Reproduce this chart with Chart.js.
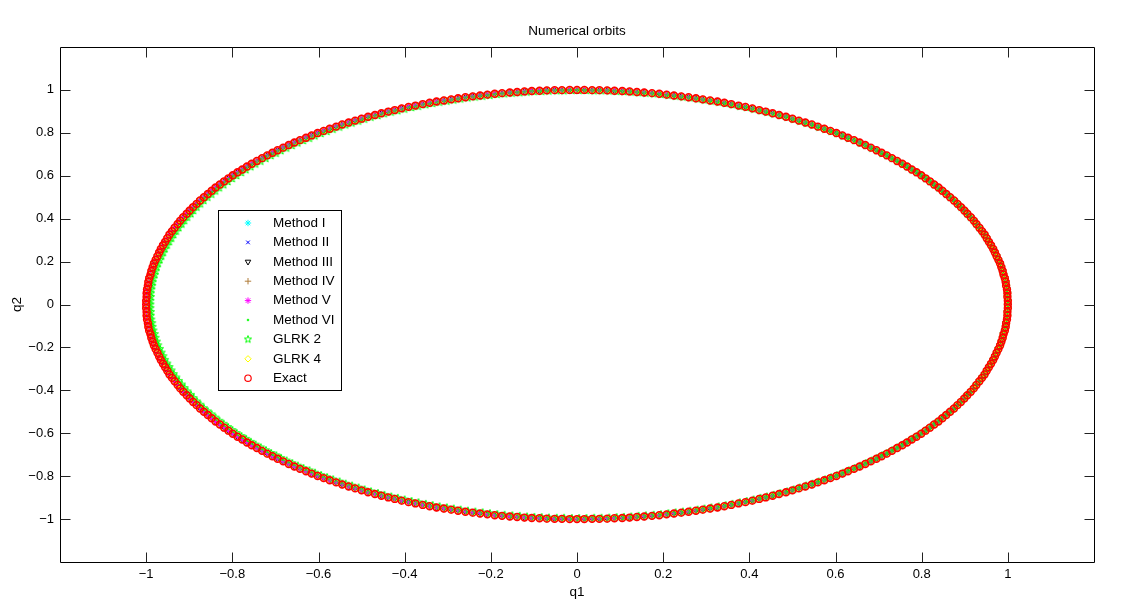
<!DOCTYPE html>
<html><head><meta charset="utf-8">
<script src="https://cdn.jsdelivr.net/npm/chart.js@4/dist/chart.umd.min.js"></script>
<style>html,body{margin:0;padding:0;background:#fff}#wrap{width:1136px;height:613px;position:relative}</style>
</head><body><div id="wrap"><canvas id="c"></canvas></div>
<script>
const chartTitle = 'Numerical orbits';
const xAxisLabel = 'q1';
const yAxisLabel = 'q2';
const xTickValues = [-1, -0.8, -0.6, -0.4, -0.2, 0, 0.2, 0.4, 0.6, 0.8, 1];
const xTickLabels = ['\u22121', '\u22120.8', '\u22120.6', '\u22120.4', '\u22120.2', '0', '0.2', '0.4', '0.6', '0.8', '1'];
const yTickValues = [-1, -0.8, -0.6, -0.4, -0.2, 0, 0.2, 0.4, 0.6, 0.8, 1];
const yTickLabels = ['\u22121', '\u22120.8', '\u22120.6', '\u22120.4', '\u22120.2', '0', '0.2', '0.4', '0.6', '0.8', '1'];
const seriesNames = ['Method I', 'Method II', 'Method III', 'Method IV', 'Method V', 'Method VI', 'GLRK 2', 'GLRK 4', 'Exact'];

// exact orbit (q1, q2)
const q1Exact = [
1,1,.999,.999,.998,.996,.995,.993,.99,.988,.985,.982,.978,.974,.97,.966,.961,.956,.951,.946,.94,.934,.927,.921,.914,.906,.899,.891,.883,.875,.866,.857,.848,.839,.829,.819,.809,.799,.788,.777,.766,.755,.743,.731,.719,.707,.695,.682,.669,.656,.643,.629,.616,.602,.588,.574,.559,.545,.53,.515,.5,.485,.469,.454,.438,.423,.407,.391,.375,.358,.342,.326,.309,.292,.276,.259,.242,.225,.208,.191,.174,.156,.139,.122,.105,.087,.07,.052,.035,.017,
0,-.017,-.035,-.052,-.07,-.087,-.105,-.122,-.139,-.156,-.174,-.191,-.208,-.225,-.242,-.259,-.276,-.292,-.309,-.326,-.342,-.358,-.375,-.391,-.407,-.423,-.438,-.454,-.469,-.485,-.5,-.515,-.53,-.545,-.559,-.574,-.588,-.602,-.616,-.629,-.643,-.656,-.669,-.682,-.695,-.707,-.719,-.731,-.743,-.755,-.766,-.777,-.788,-.799,-.809,-.819,-.829,-.839,-.848,-.857,-.866,-.875,-.883,-.891,-.899,-.906,-.914,-.921,-.927,-.934,-.94,-.946,-.951,-.956,-.961,-.966,-.97,-.974,-.978,-.982,-.985,-.988,-.99,-.993,-.995,-.996,-.998,-.999,-.999,-1,
-1,-1,-.999,-.999,-.998,-.996,-.995,-.993,-.99,-.988,-.985,-.982,-.978,-.974,-.97,-.966,-.961,-.956,-.951,-.946,-.94,-.934,-.927,-.921,-.914,-.906,-.899,-.891,-.883,-.875,-.866,-.857,-.848,-.839,-.829,-.819,-.809,-.799,-.788,-.777,-.766,-.755,-.743,-.731,-.719,-.707,-.695,-.682,-.669,-.656,-.643,-.629,-.616,-.602,-.588,-.574,-.559,-.545,-.53,-.515,-.5,-.485,-.469,-.454,-.438,-.423,-.407,-.391,-.375,-.358,-.342,-.326,-.309,-.292,-.276,-.259,-.242,-.225,-.208,-.191,-.174,-.156,-.139,-.122,-.105,-.087,-.07,-.052,-.035,-.017,
0,.017,.035,.052,.07,.087,.105,.122,.139,.156,.174,.191,.208,.225,.242,.259,.276,.292,.309,.326,.342,.358,.375,.391,.407,.423,.438,.454,.469,.485,.5,.515,.53,.545,.559,.574,.588,.602,.616,.629,.643,.656,.669,.682,.695,.707,.719,.731,.743,.755,.766,.777,.788,.799,.809,.819,.829,.839,.848,.857,.866,.875,.883,.891,.899,.906,.914,.921,.927,.934,.94,.946,.951,.956,.961,.966,.97,.974,.978,.982,.985,.988,.99,.993,.995,.996,.998,.999,.999,1];
const q2Exact = [
0,.017,.035,.052,.07,.087,.105,.122,.139,.156,.174,.191,.208,.225,.242,.259,.276,.292,.309,.326,.342,.358,.375,.391,.407,.423,.438,.454,.469,.485,.5,.515,.53,.545,.559,.574,.588,.602,.616,.629,.643,.656,.669,.682,.695,.707,.719,.731,.743,.755,.766,.777,.788,.799,.809,.819,.829,.839,.848,.857,.866,.875,.883,.891,.899,.906,.914,.921,.927,.934,.94,.946,.951,.956,.961,.966,.97,.974,.978,.982,.985,.988,.99,.993,.995,.996,.998,.999,.999,1,
1,1,.999,.999,.998,.996,.995,.993,.99,.988,.985,.982,.978,.974,.97,.966,.961,.956,.951,.946,.94,.934,.927,.921,.914,.906,.899,.891,.883,.875,.866,.857,.848,.839,.829,.819,.809,.799,.788,.777,.766,.755,.743,.731,.719,.707,.695,.682,.669,.656,.643,.629,.616,.602,.588,.574,.559,.545,.53,.515,.5,.485,.469,.454,.438,.423,.407,.391,.375,.358,.342,.326,.309,.292,.276,.259,.242,.225,.208,.191,.174,.156,.139,.122,.105,.087,.07,.052,.035,.017,
0,-.017,-.035,-.052,-.07,-.087,-.105,-.122,-.139,-.156,-.174,-.191,-.208,-.225,-.242,-.259,-.276,-.292,-.309,-.326,-.342,-.358,-.375,-.391,-.407,-.423,-.438,-.454,-.469,-.485,-.5,-.515,-.53,-.545,-.559,-.574,-.588,-.602,-.616,-.629,-.643,-.656,-.669,-.682,-.695,-.707,-.719,-.731,-.743,-.755,-.766,-.777,-.788,-.799,-.809,-.819,-.829,-.839,-.848,-.857,-.866,-.875,-.883,-.891,-.899,-.906,-.914,-.921,-.927,-.934,-.94,-.946,-.951,-.956,-.961,-.966,-.97,-.974,-.978,-.982,-.985,-.988,-.99,-.993,-.995,-.996,-.998,-.999,-.999,-1,
-1,-1,-.999,-.999,-.998,-.996,-.995,-.993,-.99,-.988,-.985,-.982,-.978,-.974,-.97,-.966,-.961,-.956,-.951,-.946,-.94,-.934,-.927,-.921,-.914,-.906,-.899,-.891,-.883,-.875,-.866,-.857,-.848,-.839,-.829,-.819,-.809,-.799,-.788,-.777,-.766,-.755,-.743,-.731,-.719,-.707,-.695,-.682,-.669,-.656,-.643,-.629,-.616,-.602,-.588,-.574,-.559,-.545,-.53,-.515,-.5,-.485,-.469,-.454,-.438,-.423,-.407,-.391,-.375,-.358,-.342,-.326,-.309,-.292,-.276,-.259,-.242,-.225,-.208,-.191,-.174,-.156,-.139,-.122,-.105,-.087,-.07,-.052,-.035,-.017];

// GLRK 2 / Method VI orbit (slightly inside on the left)
const q1Glrk2 = [
1,1,.999,.999,.998,.996,.995,.993,.99,.988,.985,.982,.978,.974,.97,.966,.961,.956,.951,.946,.94,.934,.927,.921,.914,.906,.9,.892,.884,.876,.867,.858,.849,.84,.83,.82,.81,.8,.789,.778,.767,.756,.744,.732,.72,.708,.697,.684,.671,.658,.645,.631,.618,.604,.59,.576,.561,.547,.532,.517,.503,.488,.472,.457,.441,.426,.41,.394,.378,.361,.345,.329,.312,.296,.28,.263,.246,.229,.212,.195,.178,.16,.143,.126,.109,.092,.075,.057,.04,.022,
.005,-.012,-.03,-.047,-.065,-.082,-.099,-.116,-.133,-.15,-.168,-.185,-.202,-.219,-.236,-.253,-.27,-.286,-.302,-.319,-.335,-.351,-.368,-.384,-.4,-.416,-.431,-.447,-.462,-.478,-.493,-.507,-.522,-.537,-.551,-.566,-.58,-.594,-.608,-.621,-.635,-.648,-.661,-.674,-.687,-.698,-.71,-.722,-.734,-.746,-.757,-.768,-.779,-.79,-.8,-.81,-.82,-.83,-.839,-.848,-.857,-.866,-.874,-.882,-.89,-.896,-.904,-.911,-.917,-.924,-.93,-.936,-.941,-.946,-.951,-.956,-.96,-.964,-.968,-.972,-.975,-.978,-.98,-.983,-.985,-.986,-.988,-.989,-.989,-.99,
-.99,-.99,-.989,-.989,-.988,-.986,-.985,-.983,-.98,-.978,-.975,-.972,-.968,-.964,-.96,-.956,-.951,-.946,-.941,-.936,-.93,-.924,-.917,-.911,-.904,-.896,-.89,-.882,-.874,-.866,-.857,-.848,-.839,-.83,-.82,-.81,-.8,-.79,-.779,-.768,-.757,-.746,-.734,-.722,-.71,-.698,-.687,-.674,-.661,-.648,-.635,-.621,-.608,-.594,-.58,-.566,-.551,-.537,-.522,-.507,-.493,-.478,-.462,-.447,-.431,-.416,-.4,-.384,-.368,-.351,-.335,-.319,-.302,-.286,-.27,-.253,-.236,-.219,-.202,-.185,-.168,-.15,-.133,-.116,-.099,-.082,-.065,-.047,-.03,-.012,
.005,.022,.04,.057,.075,.092,.109,.126,.143,.16,.178,.195,.212,.229,.246,.263,.28,.296,.312,.329,.345,.361,.378,.394,.41,.426,.441,.457,.472,.488,.503,.517,.532,.547,.561,.576,.59,.604,.618,.631,.645,.658,.671,.684,.697,.708,.72,.732,.744,.756,.767,.778,.789,.8,.81,.82,.83,.84,.849,.858,.867,.876,.884,.892,.9,.906,.914,.921,.927,.934,.94,.946,.951,.956,.961,.966,.97,.974,.978,.982,.985,.988,.99,.993,.995,.996,.998,.999,.999,1];
const q2Glrk2 = [
0,.017,.035,.052,.07,.087,.104,.121,.138,.155,.173,.19,.207,.224,.241,.258,.275,.291,.307,.324,.34,.356,.373,.389,.405,.421,.436,.452,.467,.483,.498,.512,.527,.542,.556,.571,.585,.599,.613,.626,.64,.653,.666,.679,.692,.703,.715,.727,.739,.751,.762,.773,.784,.795,.805,.815,.825,.835,.844,.853,.862,.871,.879,.887,.895,.901,.909,.916,.922,.929,.935,.941,.946,.951,.956,.961,.965,.969,.973,.977,.98,.983,.985,.988,.99,.991,.993,.994,.994,.995,
.995,.995,.994,.994,.993,.991,.99,.988,.985,.983,.98,.977,.973,.969,.965,.961,.956,.951,.946,.941,.935,.929,.922,.916,.909,.901,.895,.887,.879,.871,.862,.853,.844,.835,.825,.815,.805,.795,.784,.773,.762,.751,.739,.727,.715,.703,.692,.679,.666,.653,.64,.626,.613,.599,.585,.571,.556,.542,.527,.512,.498,.483,.467,.452,.436,.421,.405,.389,.373,.356,.34,.324,.307,.291,.275,.258,.241,.224,.207,.19,.173,.155,.138,.121,.104,.087,.07,.052,.035,.017,
0,-.017,-.035,-.052,-.07,-.087,-.104,-.121,-.138,-.155,-.173,-.19,-.207,-.224,-.241,-.258,-.275,-.291,-.307,-.324,-.34,-.356,-.373,-.389,-.405,-.421,-.436,-.452,-.467,-.483,-.498,-.512,-.527,-.542,-.556,-.571,-.585,-.599,-.613,-.626,-.64,-.653,-.666,-.679,-.692,-.703,-.715,-.727,-.739,-.751,-.762,-.773,-.784,-.795,-.805,-.815,-.825,-.835,-.844,-.853,-.862,-.871,-.879,-.887,-.895,-.901,-.909,-.916,-.922,-.929,-.935,-.941,-.946,-.951,-.956,-.961,-.965,-.969,-.973,-.977,-.98,-.983,-.985,-.988,-.99,-.991,-.993,-.994,-.994,-.995,
-.995,-.995,-.994,-.994,-.993,-.991,-.99,-.988,-.985,-.983,-.98,-.977,-.973,-.969,-.965,-.961,-.956,-.951,-.946,-.941,-.935,-.929,-.922,-.916,-.909,-.901,-.895,-.887,-.879,-.871,-.862,-.853,-.844,-.835,-.825,-.815,-.805,-.795,-.784,-.773,-.762,-.751,-.739,-.727,-.715,-.703,-.692,-.679,-.666,-.653,-.64,-.626,-.613,-.599,-.585,-.571,-.556,-.542,-.527,-.512,-.498,-.483,-.467,-.452,-.436,-.421,-.405,-.389,-.373,-.356,-.34,-.324,-.307,-.291,-.275,-.258,-.241,-.224,-.207,-.19,-.173,-.155,-.138,-.121,-.104,-.087,-.07,-.052,-.035,-.017];

// which orbit each series follows (others coincide with the exact orbit at this scale)
const seriesQ1 = [q1Exact, q1Exact, q1Exact, q1Exact, q1Exact, q1Glrk2, q1Glrk2, q1Exact, q1Exact];
const seriesQ2 = [q2Exact, q2Exact, q2Exact, q2Exact, q2Exact, q2Glrk2, q2Glrk2, q2Exact, q2Exact];

const FONT = '"Liberation Sans", Arial, Helvetica, sans-serif';

function makePentagram(r, color, lw) {
  const s = Math.ceil(2 * r + 2 * lw + 2);
  const c = document.createElement('canvas');
  c.width = s; c.height = s;
  const g = c.getContext('2d');
  g.strokeStyle = color; g.fillStyle = color; g.lineWidth = lw; g.lineJoin = 'miter';
  g.beginPath();
  for (let k = 0; k < 10; k++) {
    const a = -Math.PI / 2 + k * Math.PI / 5;
    const rr = (k % 2) ? r * 0.42 : r;
    const px = s / 2 + rr * Math.cos(a), py = s / 2 + rr * Math.sin(a);
    if (k) g.lineTo(px, py); else g.moveTo(px, py);
  }
  g.closePath(); g.stroke();
  return c;
}

const styles = [
  {color: '#00ffff', fill: 'rgba(0,0,0,0)', pointStyle: 'star', radius: 3.2, width: 1, rotation: 0},
  {color: '#0000ff', fill: 'rgba(0,0,0,0)', pointStyle: 'crossRot', radius: 2.6, width: 1, rotation: 0},
  {color: '#000000', fill: 'rgba(0,0,0,0)', pointStyle: 'triangle', radius: 3.6, width: 1, rotation: 180},
  {color: '#b07d3a', fill: 'rgba(0,0,0,0)', pointStyle: 'cross', radius: 3.6, width: 1, rotation: 0},
  {color: '#ff00ff', fill: 'rgba(0,0,0,0)', pointStyle: 'star', radius: 3.2, width: 1, rotation: 0},
  {color: '#00ff00', fill: '#00ff00', pointStyle: 'circle', radius: 1, width: 0.5, rotation: 0},
  {color: '#00ff00', fill: 'rgba(0,0,0,0)', pointStyle: makePentagram(3.8, '#00ff00', 1), radius: 3.8, width: 1, rotation: 0},
  {color: '#ffff00', fill: 'rgba(0,0,0,0)', pointStyle: 'rectRot', radius: 3.6, width: 1, rotation: 0},
  {color: '#ff0000', fill: 'rgba(0,0,0,0)', pointStyle: 'circle', radius: 3.4, width: 1.6, rotation: 0}
];

const datasets = seriesNames.map((name, i) => ({
  label: name,
  data: seriesQ1[i].map((x, j) => ({x: x, y: seriesQ2[i][j]})),
  showLine: false,
  pointStyle: styles[i].pointStyle,
  pointRadius: styles[i].radius,
  pointRotation: styles[i].rotation,
  pointBorderWidth: styles[i].width,
  borderColor: styles[i].color,
  backgroundColor: styles[i].fill,
  pointBorderColor: styles[i].color,
  pointBackgroundColor: styles[i].fill,
  order: seriesNames.length - 1 - i
}));

const frame = {
  id: 'frame',
  afterDraw(chart) {
    const ctx = chart.ctx;
    const a = chart.chartArea;
    const xs = chart.scales.x, ys = chart.scales.y;
    ctx.save();
    ctx.strokeStyle = '#000';
    ctx.lineWidth = 1;
    const L = Math.round(a.left) + 0.5, R = Math.round(a.right) + 0.5, T = Math.round(a.top) + 0.5, B = Math.round(a.bottom) + 0.5;
    ctx.beginPath();
    ctx.moveTo(L, T); ctx.lineTo(R, T); ctx.lineTo(R, B); ctx.lineTo(L, B); ctx.closePath();
    ctx.stroke();
    const tl = 10;
    ctx.strokeStyle = '#222';
    ctx.beginPath();
    xTickValues.forEach(v => {
      const px = Math.round(xs.getPixelForValue(v)) + 0.5;
      ctx.moveTo(px, B); ctx.lineTo(px, B - tl);
      ctx.moveTo(px, T); ctx.lineTo(px, T + tl);
    });
    yTickValues.forEach(v => {
      const py = Math.round(ys.getPixelForValue(v)) + 0.5;
      ctx.moveTo(L, py); ctx.lineTo(L + tl, py);
      ctx.moveTo(R, py); ctx.lineTo(R - tl, py);
    });
    ctx.stroke();

    // title and axis labels
    ctx.fillStyle = '#000';
    ctx.font = '13.5px ' + FONT;
    ctx.textAlign = 'center';
    ctx.textBaseline = 'middle';
    const cx = (a.left + a.right) / 2;
    ctx.fillText(chartTitle, cx, 31);
    ctx.fillText(xAxisLabel, cx, 592);
    ctx.save();
    ctx.translate(17, (a.top + a.bottom) / 2);
    ctx.rotate(-Math.PI / 2);
    ctx.fillText(yAxisLabel, 0, 0);
    ctx.restore();

    // legend box
    const lx = 218.5, ly = 210.5, lw = 123, lh = 180;
    ctx.fillStyle = '#fff';
    ctx.fillRect(lx, ly, lw, lh);
    ctx.strokeStyle = '#000';
    ctx.lineWidth = 1;
    ctx.strokeRect(lx, ly, lw, lh);
    chart.data.datasets.forEach((ds, i) => {
      const y = 223 + i * 19.4;
      ctx.strokeStyle = ds.borderColor;
      ctx.fillStyle = ds.backgroundColor;
      ctx.lineWidth = Math.min(ds.pointBorderWidth, 1.2);
      Chart.helpers.drawPoint(ctx, {pointStyle: ds.pointStyle, rotation: ds.pointRotation, radius: Math.min(ds.pointRadius, 3.2), borderWidth: ds.pointBorderWidth}, 248, y);
      ctx.fillStyle = '#000';
      ctx.font = '13.5px ' + FONT;
      ctx.textAlign = 'left';
      ctx.textBaseline = 'middle';
      ctx.fillText(ds.label, 273, y);
    });
    ctx.restore();
  }
};

new Chart(document.getElementById('c'), {
  type: 'scatter',
  data: {datasets: datasets},
  options: {
    responsive: true,
    maintainAspectRatio: false,
    animation: false,
    events: [],
    layout: {padding: {top: 47, right: 42, left: 0, bottom: 0}},
    plugins: {legend: {display: false}, title: {display: false}, tooltip: {enabled: false}},
    scales: {
      x: {
        type: 'linear', position: 'bottom', min: -1.2, max: 1.2,
        grid: {display: false, drawTicks: false},
        border: {display: false},
        afterBuildTicks: s => { s.ticks = xTickValues.map(v => ({value: v})); },
        afterFit: s => { s.height = 51; },
        ticks: {color: '#000', font: {size: 13, family: FONT}, padding: 5, maxRotation: 0, autoSkip: false,
                callback: (v, i) => xTickLabels[i]}
      },
      y: {
        type: 'linear', position: 'left', min: -1.2, max: 1.2,
        grid: {display: false, drawTicks: false},
        border: {display: false},
        afterBuildTicks: s => { s.ticks = yTickValues.map(v => ({value: v})); },
        afterFit: s => { s.width = 60; },
        ticks: {color: '#000', font: {size: 13, family: FONT}, padding: 6, autoSkip: false,
                callback: (v, i) => yTickLabels[i]}
      }
    }
  },
  plugins: [frame]
});
</script>
</body></html>
